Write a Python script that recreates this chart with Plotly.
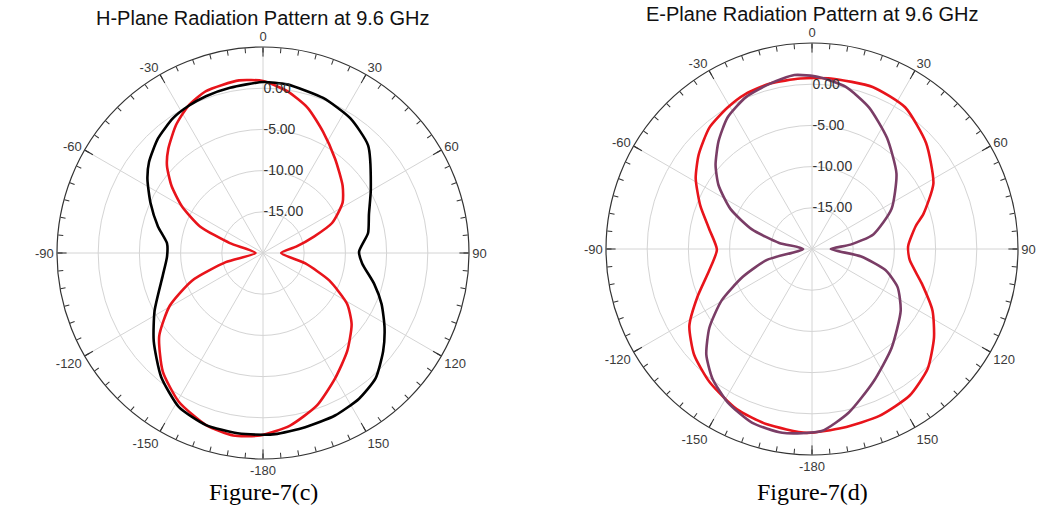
import plotly.graph_objects as go

# H-plane pattern (dB) at 9.6 GHz
h_red_theta = [-179.1, -170.7, -161.7, -150.6, -139.8, -128.7, -119.5, -111.2, -103.8, -90,
               -73.4, -67.1, -60, -53.7, -47.7, -42.2, -34.2, -27.1, -19.4, -7.9,
               0, 8.5, 17.2, 26.3, 37.4, 49.8, 57.7, 66.5, 72.1, 79.1,
               90, 103.9, 112.5, 121.2, 128.8, 139.4, 150.1, 160.5, 171.1]
h_red_db = [2.14, 2.44, 2.0, 0.76, -1.16, -3.86, -7.0, -10.8, -15.35, -19.1,
            -15.8, -11.7, -8.63, -6.22, -4.24, -2.9, -1.22, 0.0, 0.83, 1.15,
            0.87, -0.14, -1.58, -3.57, -5.6, -7.35, -8.57, -10.86, -13.5, -15.9,
            -17.8, -14.7, -11.3, -8.06, -6.2, -4.3, -2.45, -0.38, 1.2]

h_black_theta = [-180, -172, -161.7, -151.4, -140.5, -128.9, -118, -102.6, -92.3, -84.2,
                 -75.8, -65.9, -57.4, -51.4, -42.5, -33.7, -27.1, -20, -11.3, 0,
                 8.1, 21.2, 32.9, 44.3, 59.4, 70, 79.2, 89.2, 96, 105.5,
                 113.3, 121.6, 129.3, 138.1, 146.6, 156.1, 166.4, 176.2]
h_black_db = [2.05, 2.1, 2.0, 1.3, -0.55, -2.96, -5.1, -7.54, -8.34, -8.29,
              -6.85, -5.04, -3.35, -2.3, -1.14, -0.33, 0.0, 0.25, 0.45, 0.75,
              0.67, 0.18, -0.52, -1.74, -4.8, -6.32, -7.02, -8.34, -7.9, -6.0,
              -4.33, -2.68, -1.16, 0.45, 1.18, 1.57, 1.76, 2.03]

# E-plane pattern (dB) at 9.6 GHz
e_red_theta = [-178.3, -165.6, -154.8, -142.4, -131.9, -122.1, -112.8, -101.6, -90.4, -79.2,
               -68.8, -58.8, -50.3, -40.2, -30.8, -23.1, -14.2, -3.9, 6.3, 20.5,
               33.3, 47.1, 61.7, 72.6, 77.5, 88.4, 96.4, 107.5, 117.1, 126.1,
               135.9, 146.3, 158, 170.2]
e_red_db = [2.32, 1.97, 1.47, 0.38, -0.78, -2.43, -4.9, -7.29, -8.46, -7.32,
            -5.46, -3.5, -2.12, -0.71, 0.0, 0.48, 0.71, 0.74, 0.82, 1.0,
            0.58, -1.1, -3.27, -5.84, -7.1, -8.33, -8.07, -6.02, -3.57, -1.68,
            0.19, 1.37, 1.84, 2.01]

e_purple_theta = [-170.8, -160.9, -151.2, -142.5, -135, -127.5, -119.7, -111.9, -103.6, -90,
                  -79.5, -71.9, -63.9, -55.7, -48.9, -40.9, -32.7, -23.5, -14.2, -5.8,
                  2.2, 11.8, 21.9, 34, 48.2, 63.3, 76.6, 83.5, 90, 98.7,
                  106, 114, 124.8, 141.2, 155.3, 167.3, 177]
e_purple_db = [2.6, 2.3, 1.24, -0.16, -1.86, -4.3, -7.36, -10.95, -14.38, -18.93,
               -15.95, -12.33, -9.0, -6.27, -4.47, -2.68, -1.03, 0.1, 0.71, 1.22,
               0.9, 0.1, -1.47, -3.73, -6.25, -9.2, -12.35, -15.3, -17.72, -13.96,
               -10.73, -8.63, -6.89, -4.59, -2.23, 0.34, 2.13]

radial_ticks = [-15, -10, -5, 0]
radial_range = [-20, 5]
major_angles = list(range(0, 360, 30))
minor_angles = list(range(0, 360, 5))
major_text = [str(a if a < 180 else a - 360) for a in major_angles]

titles = ["H-Plane Radiation Pattern at 9.6 GHz", "E-Plane Radiation Pattern at 9.6 GHz"]
captions = ["Figure-7(c)", "Figure-7(d)"]

W, H = 1059, 511
# centre (px) and radius (px) of each polar panel
panels = [(263, 253, 206), (812, 249, 206)]


def closed(theta, r):
    return list(theta) + [theta[0]], list(r) + [r[0]]


fig = go.Figure()

series = [
    ("polar", h_red_theta, h_red_db, "#e8141b"),
    ("polar", h_black_theta, h_black_db, "#000000"),
    ("polar3", e_red_theta, e_red_db, "#e8141b"),
    ("polar3", e_purple_theta, e_purple_db, "#7a3d66"),
]
for sub, th, r, col in series:
    t2, r2 = closed(th, r)
    fig.add_trace(go.Scatterpolar(theta=t2, r=r2, mode="lines", subplot=sub,
                                  line=dict(color=col, width=2.6, shape="spline", smoothing=0.6),
                                  showlegend=False, hoverinfo="skip"))

# empty traces so the minor-tick overlay subplots get drawn
for sub in ("polar2", "polar4"):
    fig.add_trace(go.Scatterpolar(theta=[0], r=[radial_range[0]], mode="markers", subplot=sub,
                                  marker=dict(opacity=0), showlegend=False, hoverinfo="skip"))


def domain(cx, cy, rad):
    return dict(x=[(cx - rad) / W, (cx + rad) / W],
                y=[(H - cy - rad) / H, (H - cy + rad) / H])


tick_font = dict(family="Liberation Sans, Arial, sans-serif", size=13, color="#3a3a3a")
layout = {}
for i, (cx, cy, rad) in enumerate(panels):
    base = "polar" if i == 0 else "polar3"
    over = "polar2" if i == 0 else "polar4"
    dom = domain(cx, cy, rad)
    layout[base] = dict(
        domain=dom, bgcolor="white",
        angularaxis=dict(rotation=90, direction="clockwise", tickmode="array",
                         tickvals=major_angles, ticktext=major_text,
                         ticks="inside", ticklen=9, tickcolor="#333", tickwidth=1,
                         showline=True, linecolor="#333", linewidth=1.2,
                         showgrid=True, gridcolor="#d4d4d4", gridwidth=1,
                         tickfont=tick_font),
        radialaxis=dict(range=radial_range, tickmode="array", tickvals=radial_ticks,
                        ticktext=[f"{v:.2f}" for v in radial_ticks], angle=90, tickangle=90,
                        showline=False, ticks="", showgrid=True, gridcolor="#d4d4d4",
                        gridwidth=1, tickfont=dict(family="Liberation Sans, Arial, sans-serif",
                                                   size=14, color="#333"),
                        layer="above traces"),
    )
    layout[over] = dict(
        domain=dom, bgcolor="rgba(0,0,0,0)",
        angularaxis=dict(rotation=90, direction="clockwise", tickmode="array",
                         tickvals=minor_angles, ticktext=[""] * len(minor_angles),
                         ticks="inside", ticklen=5, tickwidth=1,
                         tickcolor="#333", showticklabels=True, showline=True,
                         linecolor="rgba(0,0,0,0)", showgrid=False),
        radialaxis=dict(visible=False, range=radial_range),
    )

annotations = []
for i, (cx, cy, rad) in enumerate(panels):
    annotations.append(dict(text=titles[i], x=cx / W, y=1 - (18 if i == 0 else 14) / H,
                            xref="paper", yref="paper", showarrow=False,
                            xanchor="center", yanchor="middle",
                            font=dict(family="Liberation Sans, Arial, sans-serif", size=20, color="#111")))
    annotations.append(dict(text=captions[i], x=cx / W, y=1 - 492 / H,
                            xref="paper", yref="paper", showarrow=False,
                            xanchor="center", yanchor="middle",
                            font=dict(family="Liberation Serif, Times New Roman, serif", size=24, color="#000")))

fig.update_layout(width=W, height=H, margin=dict(l=0, r=0, t=0, b=0),
                  paper_bgcolor="white", showlegend=False, annotations=annotations, **layout)

fig.write_html("out.html")
